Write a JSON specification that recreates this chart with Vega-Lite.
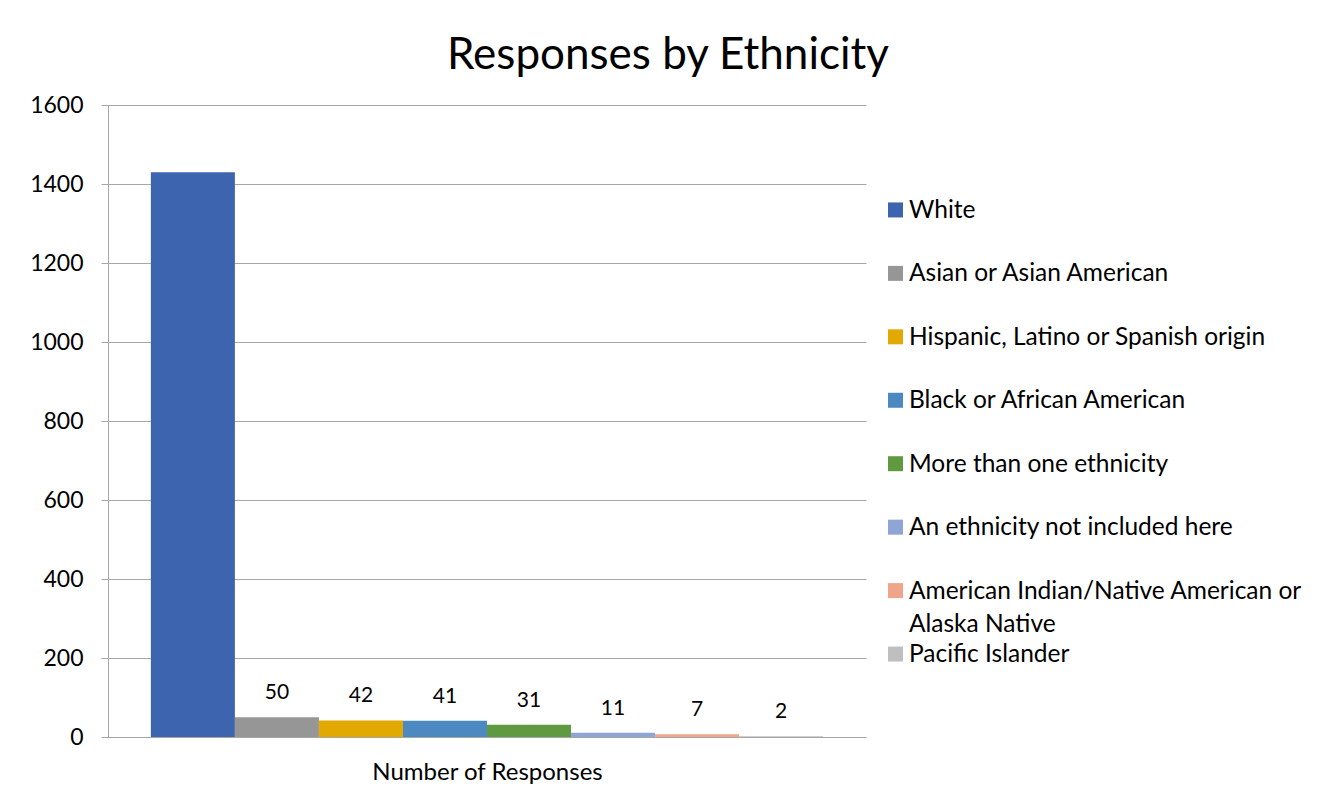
{
  "$schema": "https://vega.github.io/schema/vega-lite/v6.json",
  "autosize": {"type": "pad"},
  "padding": {"left": 29, "top": 34, "right": 0, "bottom": 0},
  "background": "white",
  "bounds": "flush",
  "spacing": 22,
  "config": {"view": {"stroke": null}},
  "data": {
    "values": [
      {"ethnicity": "White", "responses": 1430},
      {"ethnicity": "Asian or Asian American", "responses": 50},
      {"ethnicity": "Hispanic, Latino or Spanish origin", "responses": 42},
      {"ethnicity": "Black or African American", "responses": 41},
      {"ethnicity": "More than one ethnicity", "responses": 31},
      {"ethnicity": "An ethnicity not included here", "responses": 11},
      {"ethnicity": "American Indian/Native American or Alaska Native", "responses": 7},
      {"ethnicity": "Pacific Islander", "responses": 2}
    ]
  },
  "hconcat": [
    {
      "width": 758,
      "height": 632,
      "title": {
        "text": "Responses by Ethnicity",
        "font": "Lato",
        "fontSize": 44,
        "fontWeight": "normal",
        "color": "#000000",
        "anchor": "middle",
        "dx": 181,
        "offset": 16
      },
      "encoding": {
        "x": {
          "field": "ethnicity",
          "type": "nominal",
          "sort": null,
          "scale": {"paddingInner": 0, "paddingOuter": 0.51},
          "axis": {
            "labels": false,
            "ticks": false,
            "domain": true,
            "domainColor": "#A6A6A6",
            "title": "Number of Responses",
            "titleFont": "Lato",
            "titleFontSize": 24,
            "titleFontWeight": "normal",
            "titleColor": "#000000",
            "titlePadding": 23
          }
        }
      },
      "layer": [
        {
          "mark": {"type": "bar"},
          "encoding": {
            "y": {
              "field": "responses",
              "type": "quantitative",
              "scale": {"domain": [0, 1600]},
              "axis": {
                "values": [0, 200, 400, 600, 800, 1000, 1200, 1400, 1600],
                "format": "d",
                "title": null,
                "grid": true,
                "gridColor": "#A6A6A6",
                "domainColor": "#A6A6A6",
                "tickColor": "#A6A6A6",
                "tickSize": 7,
                "labelFont": "Lato",
                "labelFontSize": 23,
                "labelColor": "#000000",
                "labelPadding": 18
              }
            },
            "color": {
              "field": "ethnicity",
              "type": "nominal",
              "sort": null,
              "scale": {
                "domain": ["White", "Asian or Asian American", "Hispanic, Latino or Spanish origin", "Black or African American", "More than one ethnicity", "An ethnicity not included here", "American Indian/Native American or Alaska Native", "Pacific Islander"],
                "range": ["#3D64AE", "#969696", "#E2AA00", "#4C89C0", "#5F9A40", "#8EA5D6", "#EEA58A", "#BFBFBF"]
              },
              "legend": null
            }
          }
        },
        {
          "mark": {"type": "text", "baseline": "alphabetic", "dy": -18, "font": "Lato", "fontSize": 21, "color": "#000000"},
          "encoding": {
            "y": {"field": "responses", "type": "quantitative"},
            "text": {
              "condition": {"test": "datum.ethnicity === 'White'", "value": ""},
              "field": "responses"
            }
          }
        }
      ]
    },
    {
      "width": 15,
      "height": 571,
      "encoding": {
        "y": {
          "field": "ethnicity",
          "type": "nominal",
          "sort": null,
          "axis": null,
          "scale": {"type": "point", "padding": 1, "align": 0.827}
        }
      },
      "layer": [
        {
          "mark": {"type": "square", "size": 225, "filled": true, "opacity": 1, "strokeWidth": 0},
          "encoding": {
            "color": {
              "field": "ethnicity",
              "type": "nominal",
              "sort": null,
              "scale": {
                "domain": ["White", "Asian or Asian American", "Hispanic, Latino or Spanish origin", "Black or African American", "More than one ethnicity", "An ethnicity not included here", "American Indian/Native American or Alaska Native", "Pacific Islander"],
                "range": ["#3D64AE", "#969696", "#E2AA00", "#4C89C0", "#5F9A40", "#8EA5D6", "#EEA58A", "#BFBFBF"]
              },
              "legend": null
            }
          }
        },
        {
          "mark": {"type": "text", "align": "left", "baseline": "alphabetic", "dx": 13.5, "dy": 8, "font": "Lato", "fontSize": 24.5, "lineHeight": 33, "color": "#000000"},
          "encoding": {
            "text": {
              "condition": {"test": "datum.ethnicity === 'American Indian/Native American or Alaska Native'", "value": ["American Indian/Native American or", "Alaska Native"]},
              "field": "ethnicity"
            }
          }
        }
      ]
    }
  ]
}
